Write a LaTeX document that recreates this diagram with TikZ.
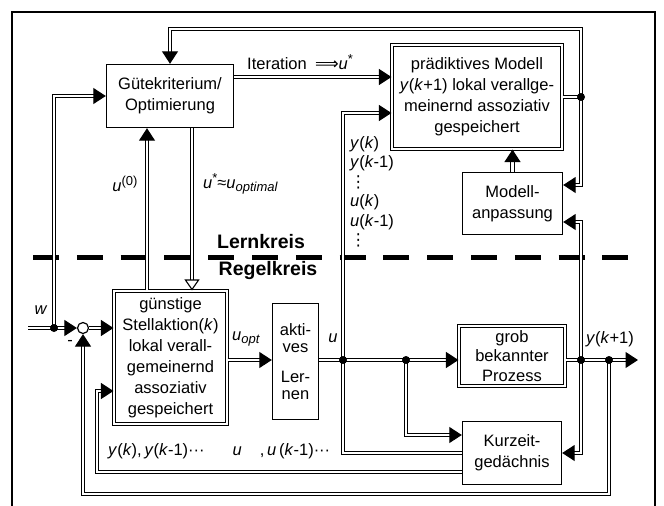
\documentclass[tikz,border=0pt]{standalone}
\usepackage{fontspec}
\setmainfont{Liberation Sans}
\newfontfamily\dejavu{DejaVu Sans}
\usetikzlibrary{arrows.meta}

\newcommand{\tief}[1]{\raisebox{-0.35ex}{\fontsize{13}{13}\selectfont\textit{#1}}}
\newcommand{\hoch}[1]{\raisebox{0.75ex}{\fontsize{13}{13}\selectfont #1}}
\newcommand{\vpunkte}{{\dejavu ⋮}}

\begin{document}
\begin{tikzpicture}[x=1pt, y=-1pt,
  font=\fontsize{16.5}{21}\selectfont,
  block/.style={draw, line width=1.4pt, fill=white, align=center, inner sep=2pt},
  dblock/.style={block, double, double distance=2pt, line width=1.1pt},
  sig/.style={double, line width=1.1pt, double distance=2.2pt},
  arr/.style={-{Triangle[length=12.5pt, width=16pt]}},
  oarr/.style={-{Triangle[open, fill=white, length=11pt, width=15pt]}},
  dot/.style={circle, fill, inner sep=0pt, minimum size=8pt},
  kreis/.style={font=\fontsize{19.5}{22}\selectfont\bfseries}
]
\useasboundingbox (0,0) rectangle (664,506);

% Rahmen und Trennlinie
\draw[line width=1.5pt] (12,506) -- (12,12) -- (655,12) -- (655,506);
\draw[line width=5.5pt, dash pattern=on 26pt off 17.8pt] (33,257.5) -- (632,257.5);
\node[kreis] (lern) at (261,242) {Lernkreis};
\node[kreis] (regel) at (268,270) {Regelkreis};

% Bloecke
\node[block, minimum width=127pt, minimum height=63pt] (guete) at (170,96) {Gütekriterium/\\Optimierung};
\node[dblock, minimum width=170pt, minimum height=104pt] (modell) at (477,97)
  {prädiktives Modell\\\textit{y}(\textit{k}+1) lokal verallge-\\meinernd assoziativ\\gespeichert};
\node[block, minimum width=100pt, minimum height=62pt] (anpassung) at (512.5,203.5) {Modell-\\anpassung};
\node[dblock, minimum width=113pt, minimum height=133pt] (guenstig) at (170.5,357.5)
  {günstige\\Stellaktion(\textit{k})\\lokal verall-\\gemeinernd\\assoziativ\\gespeichert};
\node[block, minimum width=46pt, minimum height=116pt, font=\fontsize{16.5}{17}\selectfont] (aktiv) at (295.5,361.5)
  {akti-\\ves\\[13pt]Ler-\\nen};
\node[dblock, minimum width=106pt, minimum height=60pt, font=\fontsize{16.5}{19.5}\selectfont] (prozess) at (512,356)
  {grob\\bekannter\\Prozess};
\node[block, minimum width=99pt, minimum height=63pt] (kurzzeit) at (512,453) {Kurzeit-\\gedächnis};
\node[circle, draw, line width=1.2pt, fill=white, minimum size=11pt, inner sep=0pt] (sum) at (83,328) {};

% Verzweigungen
\coordinate (win) at (28,328);
\coordinate (wj) at (54,328);
\coordinate (mj) at (581,97);
\coordinate (ttop) at (581,29);
\coordinate (uj) at (343,360);
\coordinate (kj) at (406,360);
\coordinate (pj) at (581,360);
\coordinate (rj) at (609,360);
\coordinate (yout) at (638,360);

% Signale
\draw[sig] (win) -- (wj);
\draw[sig, arr] (wj) -- (sum);
\draw[sig, arr] (wj) |- (guete.west);
\draw[sig, arr] (sum) -- (sum -| guenstig.west);
\draw[sig, arr] (guenstig.north -| 147,0) -- (guete.south -| 147,0);
\draw[sig, oarr] (guete.south -| 192,0) -- (guenstig.north -| 192,0);
\draw[sig, arr] (guete.east |- 0,77) -- (modell.west |- 0,77);
\draw[sig] (modell.east |- mj) -- (mj);
\draw[sig, arr] (mj) -- (ttop) -| (guete.north);
\draw[sig, arr] (mj) |- (anpassung.east |- 0,185);
\draw[sig, arr] (anpassung.north) -- (anpassung.north |- modell.south);
\draw[sig, arr] (guenstig.east |- uj) -- (aktiv.west |- uj);
\draw[sig, arr] (aktiv.east |- uj) -- (prozess.west |- uj);
\draw[sig, arr] (kj) |- (kurzzeit.west |- 0,435);
\draw[sig, arr] (kurzzeit.west) -| (uj) |- (modell.west |- 0,113);
\draw[sig, arr] (kurzzeit.west |- 0,472) -- (97,472) |- (guenstig.west |- 0,391);
\draw[sig, arr] (prozess.east |- pj) -- (yout);
\draw[sig, arr] (pj) |- (anpassung.east |- 0,222);
\draw[sig, arr] (pj) |- (kurzzeit.east);
\draw[sig, arr] (rj) -- (609,494) -| (sum.south);

\foreach \j in {wj, mj, uj, kj, pj, rj}
  \node[dot] at (\j) {};

% Beschriftungen
\node (wlbl) at (41,310) {\textit{w}};
\node (minus) at (70,343) {-};
\node (u0lbl) at (125,184) {\textit{u}\hoch{(0)}};
\node[anchor=west, inner sep=0pt] (ustern) at (203,184) {\textit{u}\hoch{*}≈\textit{u}\tief{optimal}};
\node[anchor=west, inner sep=0pt] (iter) at (247,62) {Iteration\enspace{\dejavu ⟹}\textit{u}\hoch{*}};
\node (uoptlbl) at (246,339) {\textit{u}\tief{opt}};
\node (ulbl) at (333,338) {\textit{u}};
\node (ylbl) at (610,339) {\textit{y}(\textit{k}+1)};
\node[anchor=north west, align=left, inner sep=0pt, font=\fontsize{16.5}{19.5}\selectfont] (ulist) at (350,136)
  {\textit{y}(\textit{k})\\\textit{y}(\textit{k}-1)\\\vpunkte\\\textit{u}(\textit{k})\\\textit{u}(\textit{k}-1)\\\vpunkte};
\node[anchor=west, inner sep=0pt] (ylist) at (108,451)
  {\textit{y}(\textit{k}),\,\textit{y}(\textit{k}-1)···\hspace{28pt}\textit{u}\hspace{18pt},\,\textit{u}\,(\textit{k}-1)···};
\end{tikzpicture}
\end{document}
